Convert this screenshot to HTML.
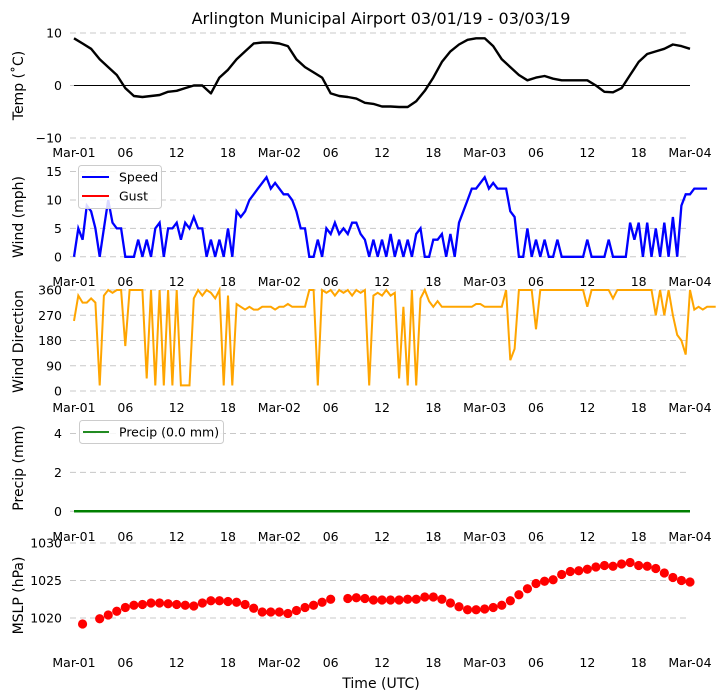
<!DOCTYPE html>
<html><head><meta charset="utf-8"><style>
body{margin:0;background:#fff;}
svg{display:block;font-family:"DejaVu Sans","Liberation Sans",sans-serif;}
</style></head><body>
<svg id="c" width="721" height="700" xmlns="http://www.w3.org/2000/svg"></svg>
<script>
const xTickLabels=["Mar-01","06","12","18","Mar-02","06","12","18","Mar-03","06","12","18","Mar-04"];
const xTickHours=[0,6,12,18,24,30,36,42,48,54,60,66,72];
const tempHours=[0,1,2,3,4,5,6,7,8,9,10,11,12,13,14,15,16,17,18,19,20,21,22,23,24,25,26,27,28,29,30,31,32,33,34,35,36,37,38,39,40,41,42,43,44,45,46,47,48,49,50,51,52,53,54,55,56,57,58,59,60,61,62,63,64,65,66,67,68,69,70,71,72];
const tempVals=[9,8,7,5,3.5,2,-0.5,-2,-2.2,-2,-1.8,-1.2,-1,-0.5,0,0,-1.5,1.5,3,5,6.5,8,8.2,8.2,8,7.5,5,3.5,2.5,1.5,-1.5,-2,-2.2,-2.5,-3.3,-3.5,-4,-4,-4.1,-4.1,-3,-1,1.5,4.5,6.5,7.8,8.7,9,9,7.5,5,3.5,2,1,1.5,1.8,1.3,1,1,1,1,0,-1.2,-1.3,-0.5,2,4.5,6,6.5,7,7.8,7.5,7];
const windVals=[0,5,3,9,8,5,0,5,10,6,5,5,0,0,0,3,0,3,0,5,6,0,5,5,6,3,6,5,7,5,5,0,3,0,3,0,5,0,8,7,8,10,11,12,13,14,12,13,12,11,11,10,8,5,5,0,0,3,0,5,4,6,4,5,4,6,6,4,3,0,3,0,3,0,4,0,3,0,3,0,4,5,0,0,3,3,4,0,4,0,6,8,10,12,12,13,14,12,13,12,12,12,8,7,0,0,5,0,3,0,3,0,0,3,0,0,0,0,0,0,3,0,0,0,0,3,0,0,0,0,6,3,6,0,6,0,5,0,6,0,7,0,9,11,11,12,12,12,12];
const dirVals=[250,340,315,315,330,315,20,340,360,350,360,360,160,360,360,360,360,45,360,20,360,20,360,20,360,20,20,20,330,360,340,360,350,330,360,20,340,20,310,300,290,300,290,290,300,300,300,290,300,300,310,300,300,300,300,360,360,20,360,350,360,340,360,350,360,340,360,350,360,20,340,350,340,360,340,350,45,300,20,360,20,330,360,320,300,320,300,300,300,300,300,300,300,300,310,310,300,300,300,300,300,360,110,150,360,360,360,360,220,360,360,360,360,360,360,360,360,360,360,360,300,360,360,360,360,360,330,360,360,360,360,360,360,360,360,360,270,360,270,360,270,200,180,130,360,290,300,290,300,300,300];
const precipVals=[0,0,0,0,0,0,0,0,0,0,0,0,0,0,0,0,0,0,0,0,0,0,0,0,0,0,0,0,0,0,0,0,0,0,0,0,0,0,0,0,0,0,0,0,0,0,0,0,0,0,0,0,0,0,0,0,0,0,0,0,0,0,0,0,0,0,0,0,0,0,0,0,0];
const mslpHours=[1,3,4,5,6,7,8,9,10,11,12,13,14,15,16,17,18,19,20,21,22,23,24,25,26,27,28,29,30,32,33,34,35,36,37,38,39,40,41,42,43,44,45,46,47,48,49,50,51,52,53,54,55,56,57,58,59,60,61,62,63,64,65,66,67,68,69,70,71,72];
const mslpVals=[1019.2,1019.9,1020.4,1020.9,1021.4,1021.7,1021.8,1022,1022,1021.9,1021.8,1021.7,1021.6,1022,1022.3,1022.3,1022.2,1022.1,1021.8,1021.3,1020.8,1020.8,1020.8,1020.6,1021,1021.4,1021.7,1022.1,1022.5,1022.6,1022.7,1022.6,1022.4,1022.4,1022.4,1022.4,1022.5,1022.5,1022.8,1022.8,1022.5,1022,1021.5,1021.1,1021.1,1021.2,1021.4,1021.7,1022.3,1023.1,1023.9,1024.6,1024.9,1025.1,1025.8,1026.2,1026.3,1026.5,1026.8,1027,1026.9,1027.2,1027.4,1027,1026.9,1026.6,1026,1025.4,1025,1024.8];

const svg=document.getElementById('c');
const NS='http://www.w3.org/2000/svg';
function mk(tag,attrs,parent){const e=document.createElementNS(NS,tag);for(const k in attrs)e.setAttribute(k,attrs[k]);(parent||svg).appendChild(e);return e;}
const X0=74,X1=690;
function xs(h){return X0+(X1-X0)*h/72;}

const panels=[
 {name:'temp',top:33,bot:138,min:-10,max:10,ticks:[-10,0,10],labels:["\u221210","0","10"],ylab:"Temp (\u02daC)",lblY:153},
 {name:'wind',top:167,bot:267,min:-1.8,max:15.8,ticks:[0,5,10,15],labels:["0","5","10","15"],ylab:"Wind (mph)",lblY:282},
 {name:'dir',top:290,bot:393,min:-7,max:360,ticks:[0,90,180,270,360],labels:["0","90","180","270","360"],ylab:"Wind Direction",lblY:408},
 {name:'precip',top:414,bot:522,min:-0.55,max:5,ticks:[0,2,4],labels:["0","2","4"],ylab:"Precip (mm)",lblY:537},
 {name:'mslp',top:543,bot:648,min:1016,max:1030,ticks:[1020,1025,1030],labels:["1020","1025","1030"],ylab:"MSLP (hPa)",lblY:663}
];
panels.forEach(p=>{p.ys=v=>p.bot-(v-p.min)*(p.bot-p.top)/(p.max-p.min);});

const t=mk('text',{x:381,y:24,'text-anchor':'middle','font-size':16,fill:'#000'});
t.textContent="Arlington Municipal Airport 03/01/19 - 03/03/19";



panels.forEach(p=>{
 const g=mk('g',{});
 
 
 p.ticks.forEach((v,i)=>{
  const y=p.ys(v);
  const l=mk('line',{x1:70,x2:690,y1:y,y2:y,stroke:'#c8c8c8','stroke-dasharray':'6,4','stroke-width':1},g);
  
  
  const tx=mk('text',{x:62,y:y+4.5,'text-anchor':'end','font-size':12.5,fill:'#000'},g);
  tx.textContent=p.labels[i];
  
  
 });
 xTickHours.forEach((h,i)=>{
  const tx=mk('text',{x:xs(h),y:p.lblY+4,'text-anchor':'middle','font-size':12.5,fill:'#000'},g);
  tx.textContent=xTickLabels[i];
  
  
 });
 const cy=(p.top+p.bot)/2;
 const yl=mk('text',{x:0,y:0,'text-anchor':'middle','font-size':14,fill:'#000',transform:`translate(23,${cy}) rotate(-90)`},g);
 yl.textContent=p.ylab;
 
 
 p.g=g;
});

// temp
const P0=panels[0];
const zl=mk('line',{x1:74,x2:690,y1:P0.ys(0),y2:P0.ys(0),stroke:'#000','stroke-width':1},P0.g);


let tp=mk('path',{d:tempVals.map((v,i)=>(i?'L':'M')+xs(tempHours[i]).toFixed(1)+','+P0.ys(v).toFixed(1)).join(''),fill:'none',stroke:'#000','stroke-width':2.4,'stroke-linejoin':'round'},P0.g);



// wind
const P1=panels[1];
let wp=mk('path',{d:windVals.map((v,i)=>(i?'L':'M')+xs(i*0.5).toFixed(1)+','+P1.ys(v).toFixed(1)).join(''),fill:'none',stroke:'#0000ff','stroke-width':2.3},P1.g);


const lg=mk('g',{},P1.g);


mk('rect',{x:78.5,y:165.5,width:83,height:43,rx:3,fill:'#fff','fill-opacity':0.85,stroke:'#ccc'},lg);
mk('line',{x1:82,x2:109,y1:177,y2:177,stroke:'#0000ff','stroke-width':2},lg);
mk('line',{x1:82,x2:109,y1:196,y2:196,stroke:'#ff0000','stroke-width':2},lg);
let s1=mk('text',{x:119,y:181.5,'font-size':12.5},lg);s1.textContent='Speed';
let s2=mk('text',{x:119,y:200.5,'font-size':12.5},lg);s2.textContent='Gust';

// dir
const P2=panels[2];
let dp=mk('path',{d:dirVals.map((v,i)=>(i?'L':'M')+xs(i*0.5).toFixed(1)+','+P2.ys(v).toFixed(1)).join(''),fill:'none',stroke:'#ffa500','stroke-width':2},P2.g);



// precip
const P3=panels[3];
let pp=mk('path',{d:precipVals.map((v,i)=>(i?'L':'M')+xs(i).toFixed(1)+','+P3.ys(v).toFixed(1)).join(''),fill:'none',stroke:'#008000','stroke-width':2.5},P3.g);


const lg2=mk('g',{},P3.g);


mk('rect',{x:79.5,y:420.5,width:144,height:23,rx:3,fill:'#fff','fill-opacity':0.85,stroke:'#ccc'},lg2);
mk('line',{x1:83,x2:109,y1:432,y2:432,stroke:'#228b22','stroke-width':2},lg2);
let s3=mk('text',{x:119,y:436.5,'font-size':12.5},lg2);s3.textContent='Precip (0.0 mm)';

// mslp
const P4=panels[4];
mslpVals.forEach((v,i)=>{
 const c=mk('circle',{cx:xs(mslpHours[i]),cy:P4.ys(v),r:4.6,fill:'#ff0000'},P4.g);
 
 
});

const xt=mk('text',{x:381,y:688,'text-anchor':'middle','font-size':14});
xt.textContent='Time (UTC)';


</script>
</body></html>
